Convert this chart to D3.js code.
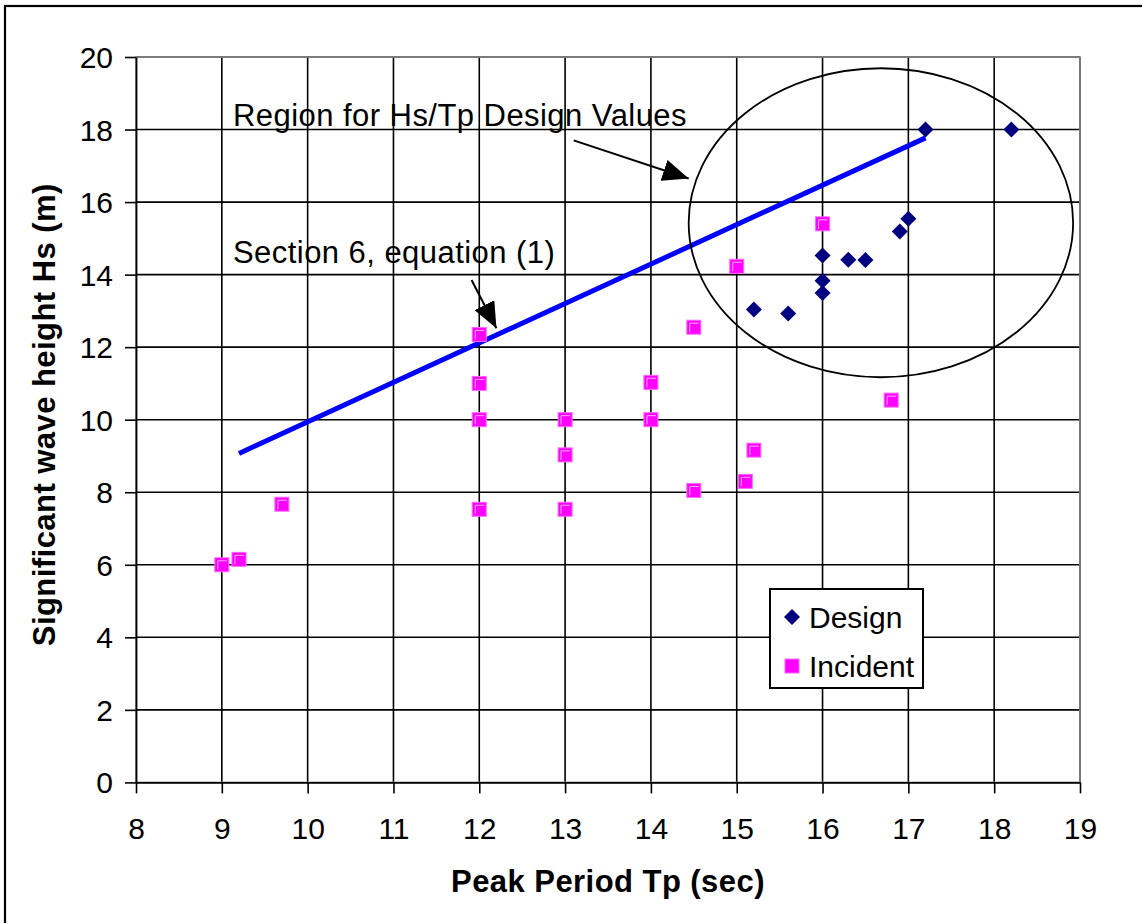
<!DOCTYPE html>
<html>
<head>
<meta charset="utf-8">
<script src="https://cdn.jsdelivr.net/npm/d3@7"></script>
<style>
  html, body { margin: 0; padding: 0; background: #fff; }
  svg { display: block; font-family: "Liberation Sans", Arial, sans-serif; }
</style>
</head>
<body>
<svg id="chart" width="1142" height="923"></svg>
<script>
// ---- data ----
const tpTicks = [8, 9, 10, 11, 12, 13, 14, 15, 16, 17, 18, 19];
const hsTicks = [0, 2, 4, 6, 8, 10, 12, 14, 16, 18, 20];

const designTp = [15.2, 15.6, 16.0, 16.0, 16.0, 16.3, 16.5, 16.9, 17.0, 17.2, 18.2];
const designHs = [13.04, 12.93, 14.53, 13.83, 13.49, 14.41, 14.40, 15.19, 15.54, 18.0, 18.0];

const incidentTp = [9.0, 9.2, 9.7, 12, 12, 12, 12, 13, 13, 13, 14, 14, 14.5, 14.5, 15.0, 15.1, 15.2, 16.0, 16.8];
const incidentHs = [6.0, 6.15, 7.67, 12.35, 11.0, 10.0, 7.53, 10.0, 9.03, 7.53, 11.03, 10.0, 12.55, 8.05, 14.23, 8.3, 9.16, 15.4, 10.54];

const equationTp = [9.2, 17.2];
const equationHs = [9.07, 17.77];

const regionCenter = [16.68, 15.43];
const regionRadii = [2.24, 4.26];

const annotationText = ["Region for Hs/Tp Design Values", "Section 6, equation (1)"];
const annotationPos = [[9.13, 18.11], [9.13, 14.31]];
const arrowFrom = [[13.10, 17.70], [11.91, 13.85]];
const arrowTo = [[14.44, 16.65], [12.20, 12.52]];

const seriesNames = ["Design", "Incident"];

(function () {
// ---- layout ----
const svg = d3.select("#chart");
const pLeft = 136, pRight = 1080, pTop = 57, pBottom = 782.4;

const x = d3.scaleLinear().domain([8, 19]).range([pLeft, pRight]);
const y = d3.scaleLinear().domain([0, 20]).range([pBottom, pTop]);

// outer chart border
svg.append("rect").attr("x", 5).attr("y", 6).attr("width", 1200).attr("height", 1000)
  .attr("fill", "#fff").attr("stroke", "#000").attr("stroke-width", 2.2);

// gridlines
const grid = svg.append("g");
grid.selectAll("line.v").data(tpTicks.slice(1)).join("line").attr("class", "v")
  .attr("x1", d => x(d)).attr("x2", d => x(d))
  .attr("y1", y(0)).attr("y2", y(20))
  .attr("stroke", "#000").attr("stroke-width", 1.6);
grid.selectAll("line.h").data(hsTicks.slice(1)).join("line").attr("class", "h")
  .attr("y1", d => y(d)).attr("y2", d => y(d))
  .attr("x1", x(8)).attr("x2", x(19))
  .attr("stroke", "#000").attr("stroke-width", 1.6);

// plot area border (grey)
svg.append("rect").attr("x", x(8)).attr("y", y(20))
  .attr("width", x(19) - x(8)).attr("height", y(0) - y(20))
  .attr("fill", "none").attr("stroke", "#8a8a8a").attr("stroke-width", 1.6);

// axes
const fs = 30;
const yAxis = d3.axisLeft(y).tickValues(hsTicks).tickSize(11).tickSizeOuter(0).tickPadding(12);
const gy = svg.append("g").attr("transform", `translate(${pLeft},0)`).call(yAxis);
const xAxis = d3.axisBottom(x).tickValues(tpTicks).tickSize(11).tickSizeOuter(0).tickPadding(24);
const gx = svg.append("g").attr("transform", `translate(0,${pBottom})`).call(xAxis);
[gx, gy].forEach(g => {
  g.selectAll("path.domain").attr("stroke", "#000").attr("stroke-width", 1.8);
  g.selectAll(".tick line").attr("stroke", "#000").attr("stroke-width", 1.6);
  g.selectAll("text").attr("font-size", fs).attr("fill", "#000")
    .attr("font-family", '"Liberation Sans", Arial, sans-serif');
});
gy.selectAll("text").attr("dy", "0.35em");
gx.selectAll("text").attr("dy", "0.71em");

// axis titles
svg.append("text").attr("x", (pLeft + pRight) / 2).attr("y", 892)
  .attr("text-anchor", "middle").attr("font-weight", "bold").attr("font-size", 31)
  .attr("letter-spacing", 0.45)
  .text("Peak Period Tp (sec)");
svg.append("text").attr("transform", `translate(55,${(pTop + pBottom) / 2 - 5}) rotate(-90)`)
  .attr("text-anchor", "middle").attr("font-weight", "bold").attr("font-size", 31)
  .attr("letter-spacing", 0.45)
  .text("Significant wave height Hs (m)");

// equation line
svg.append("path")
  .datum(equationTp.map((t, i) => [t, equationHs[i]]))
  .attr("d", d3.line().x(d => x(d[0])).y(d => y(d[1])))
  .attr("fill", "none").attr("stroke", "#0000ff").attr("stroke-width", 5);

// markers
const design = designTp.map((t, i) => [t, designHs[i]]);
const incident = incidentTp.map((t, i) => [t, incidentHs[i]]);
const dr = 8;
const diamondPath = `M0,${-dr}L${dr},0L0,${dr}L${-dr},0Z`;
svg.append("g").selectAll("path").data(design).join("path")
  .attr("d", diamondPath)
  .attr("transform", d => `translate(${x(d[0])},${y(d[1])})`)
  .attr("fill", "#000080");

const sq = 14;
const sqG = svg.append("g").selectAll("g").data(incident).join("g")
  .attr("transform", d => `translate(${x(d[0])},${y(d[1])})`);
sqG.append("rect").attr("x", -sq / 2).attr("y", -sq / 2).attr("width", sq).attr("height", sq)
  .attr("fill", "#ff00ff").attr("stroke", "#ff66ff").attr("stroke-width", 1);
sqG.append("path").attr("d", `M${-sq / 2 + 3},${sq / 2 - 2}V${-sq / 2 + 3}H${sq / 2 - 2}`)
  .attr("fill", "none").attr("stroke", "#ffb0ff").attr("stroke-width", 1);

// region ellipse
svg.append("ellipse")
  .attr("cx", x(regionCenter[0])).attr("cy", y(regionCenter[1]))
  .attr("rx", x(regionCenter[0] + regionRadii[0]) - x(regionCenter[0]))
  .attr("ry", y(regionCenter[1] - regionRadii[1]) - y(regionCenter[1]))
  .attr("fill", "none").attr("stroke", "#000").attr("stroke-width", 1.8);

// arrows
svg.append("defs").append("marker")
  .attr("id", "ah").attr("viewBox", "0 0 26 22").attr("refX", 26).attr("refY", 11)
  .attr("markerWidth", 26).attr("markerHeight", 22).attr("markerUnits", "userSpaceOnUse")
  .attr("orient", "auto")
  .append("path").attr("d", "M0,0L26,11L0,22Z").attr("fill", "#000");
arrowFrom.forEach((f, i) => {
  svg.append("line")
    .attr("x1", x(f[0])).attr("y1", y(f[1]))
    .attr("x2", x(arrowTo[i][0])).attr("y2", y(arrowTo[i][1]))
    .attr("stroke", "#000").attr("stroke-width", 2)
    .attr("marker-end", "url(#ah)");
});

// annotation texts
annotationText.forEach((t, i) => {
  svg.append("text").attr("x", x(annotationPos[i][0])).attr("y", y(annotationPos[i][1]))
    .attr("font-size", 31).attr("letter-spacing", 0.45).attr("fill", "#000").text(t);
});

// legend
const lg = svg.append("g");
lg.append("rect").attr("x", 770).attr("y", 589).attr("width", 153).attr("height", 99)
  .attr("fill", "#fff").attr("stroke", "#000").attr("stroke-width", 2);
const legendRows = [617, 666];
lg.append("path").attr("d", diamondPath).attr("transform", `translate(792,${legendRows[0]})`)
  .attr("fill", "#000080");
lg.append("rect").attr("x", 792 - sq / 2).attr("y", legendRows[1] - sq / 2)
  .attr("width", sq).attr("height", sq).attr("fill", "#ff00ff").attr("stroke", "#ff66ff");
seriesNames.forEach((n, i) => {
  lg.append("text").attr("x", 809).attr("y", legendRows[i]).attr("dy", "0.35em")
    .attr("font-size", 30).attr("fill", "#000").text(n);
});
})();
</script>
</body>
</html>
